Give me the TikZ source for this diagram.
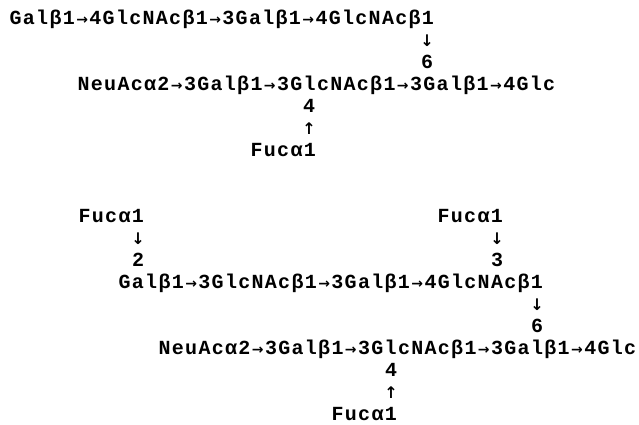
\documentclass[tikz,border=0pt]{standalone}
\usepackage{fontspec}
\newfontfamily\glyco{Liberation Mono}
\newfontfamily\arrowfont{DejaVu Sans}
\newlength\cw
\setlength\cw{13.3pt}
\def\ra{{\arrowfont\bfseries\fontsize{14}{16}\selectfont →}}
\def\da{{\arrowfont\bfseries\fontsize{16}{18}\selectfont ↓}}
\def\ua{{\arrowfont\bfseries\fontsize{16}{18}\selectfont ↑}}
\def\grid#1{\gridloop#1\relax}
\def\gridloop#1{\ifx#1\relax\else\makebox[\cw]{#1}\expandafter\gridloop\fi}
\tikzset{
  chain/.style={inner sep=0pt, outer sep=0pt, anchor=mid west, font=\glyco\bfseries\fontsize{20}{22}\selectfont},
  mark1/.style={inner sep=0pt, outer sep=0pt, anchor=mid, font=\glyco\bfseries\fontsize{20}{22}\selectfont}
}
\begin{document}
\begin{tikzpicture}[x=1pt,y=-1pt]
\useasboundingbox (0,0) rectangle (639,425);
% structure 1
\node[chain] (s1main) at (9,22.5) {\grid{Galβ1\ra4GlcNAcβ1\ra3Galβ1\ra4GlcNAcβ1}};
\node[mark1] (s1arr) at (427,44.5) {\da};
\node[mark1] (s1six) at (427,66.5) {6};
\node[chain] (s1neu) at (77,88.5) {\grid{NeuAcα2\ra3Galβ1\ra3GlcNAcβ1\ra3Galβ1\ra4Glc}};
\node[mark1] (s1four) at (309,110.5) {4};
\node[mark1] (s1up) at (309,132.5) {\ua};
\node[chain] (s1fuc) at (250,154.5) {\grid{Fucα1}};
% structure 2
\node[chain] (s2fucA) at (78,220) {\grid{Fucα1}};
\node[mark1] (s2arrA) at (138,242) {\da};
\node[mark1] (s2two) at (138,264) {2};
\node[chain] (s2fucB) at (437,220) {\grid{Fucα1}};
\node[mark1] (s2arrB) at (497,242) {\da};
\node[mark1] (s2three) at (497,264) {3};
\node[chain] (s2gal) at (118,286) {\grid{Galβ1\ra3GlcNAcβ1\ra3Galβ1\ra4GlcNAcβ1}};
\node[mark1] (s2arr6) at (537,308) {\da};
\node[mark1] (s2six) at (537,330) {6};
\node[chain] (s2neu) at (158,352) {\grid{NeuAcα2\ra3Galβ1\ra3GlcNAcβ1\ra3Galβ1\ra4Glc}};
\node[mark1] (s2four) at (391,374) {4};
\node[mark1] (s2up) at (391,396) {\ua};
\node[chain] (s2fuc) at (331,418) {\grid{Fucα1}};
\end{tikzpicture}
\end{document}
